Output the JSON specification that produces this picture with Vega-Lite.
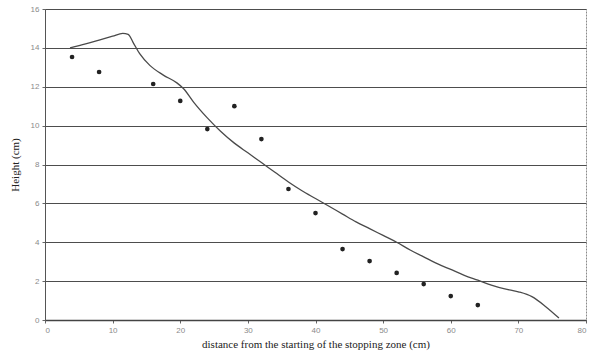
{
  "$schema": "https://vega.github.io/schema/vega-lite/v6.json",
  "width": 541,
  "height": 311,
  "autosize": {"type": "none"},
  "padding": {"left": 45, "top": 9, "right": 10, "bottom": 38},
  "background": "white",
  "config": {
    "view": {"stroke": "#8a8a8a", "strokeWidth": 1, "strokeDash": [2, 1]},
    "axis": {"labelFont": "Liberation Sans", "titleFont": "Liberation Serif"}
  },
  "datasets": {
    "measured": [
      {"distance": 4, "height": 13.53},
      {"distance": 8, "height": 12.76},
      {"distance": 16, "height": 12.14},
      {"distance": 20, "height": 11.27},
      {"distance": 24, "height": 9.82},
      {"distance": 28, "height": 11.0},
      {"distance": 32, "height": 9.31},
      {"distance": 36, "height": 6.74},
      {"distance": 40, "height": 5.5},
      {"distance": 44, "height": 3.65},
      {"distance": 48, "height": 3.03},
      {"distance": 52, "height": 2.42},
      {"distance": 56, "height": 1.85},
      {"distance": 60, "height": 1.23},
      {"distance": 64, "height": 0.77}
    ],
    "model": [
      {"distance": 3.7, "height": 14.0},
      {"distance": 6, "height": 14.2},
      {"distance": 8, "height": 14.4},
      {"distance": 10, "height": 14.6},
      {"distance": 11.5, "height": 14.75},
      {"distance": 12.3, "height": 14.7},
      {"distance": 13, "height": 14.3},
      {"distance": 14, "height": 13.7},
      {"distance": 15.5, "height": 13.1},
      {"distance": 17.5, "height": 12.6},
      {"distance": 19.5, "height": 12.2},
      {"distance": 20.5, "height": 11.9},
      {"distance": 22, "height": 11.2},
      {"distance": 24, "height": 10.4},
      {"distance": 26, "height": 9.7},
      {"distance": 28, "height": 9.1},
      {"distance": 30, "height": 8.6},
      {"distance": 32, "height": 8.1},
      {"distance": 34, "height": 7.6},
      {"distance": 36, "height": 7.1},
      {"distance": 38, "height": 6.65},
      {"distance": 40, "height": 6.25},
      {"distance": 42, "height": 5.85},
      {"distance": 44, "height": 5.45},
      {"distance": 46, "height": 5.05},
      {"distance": 48, "height": 4.7},
      {"distance": 50, "height": 4.35},
      {"distance": 52, "height": 4.0},
      {"distance": 54, "height": 3.6},
      {"distance": 56, "height": 3.25},
      {"distance": 58, "height": 2.9},
      {"distance": 60, "height": 2.6},
      {"distance": 62, "height": 2.3},
      {"distance": 64, "height": 2.05},
      {"distance": 66, "height": 1.8},
      {"distance": 68, "height": 1.6},
      {"distance": 70, "height": 1.45},
      {"distance": 72, "height": 1.2},
      {"distance": 74, "height": 0.7},
      {"distance": 76, "height": 0.1}
    ]
  },
  "encoding": {
    "x": {
      "field": "distance", "type": "quantitative",
      "scale": {"domain": [0, 80], "nice": false},
      "axis": {
        "values": [0, 10, 20, 30, 40, 50, 60, 70, 80],
        "title": "distance from the starting of the stopping zone (cm)",
        "titleFontSize": 11, "titleFontWeight": "normal", "titleColor": "#222",
        "titlePadding": 4,
        "labelFontSize": 8, "labelColor": "#8a8a8a", "labelPadding": 3,
        "labelOverlap": false,
        "domainColor": "#444", "domainWidth": 1.5,
        "tickColor": "#666", "tickSize": 3,
        "grid": false
      }
    },
    "y": {
      "field": "height", "type": "quantitative",
      "scale": {"domain": [0, 16], "nice": false},
      "axis": {
        "values": [0, 2, 4, 6, 8, 10, 12, 14, 16],
        "title": "Height (cm)",
        "titleFontSize": 11, "titleFontWeight": "normal", "titleColor": "#222",
        "titlePadding": 10,
        "labelFontSize": 8, "labelColor": "#8a8a8a", "labelPadding": 3,
        "labelOverlap": false,
        "domainColor": "#555", "domainWidth": 1,
        "tickColor": "#666", "tickSize": 3,
        "grid": true, "gridColor": "#4d4d4d", "gridWidth": 1
      }
    }
  },
  "layer": [
    {
      "data": {"name": "model"},
      "mark": {"type": "line", "color": "#4a4a4a", "strokeWidth": 1.3, "interpolate": "monotone"}
    },
    {
      "data": {"name": "measured"},
      "mark": {"type": "point", "filled": true, "color": "#222", "size": 22, "opacity": 1}
    }
  ]
}
